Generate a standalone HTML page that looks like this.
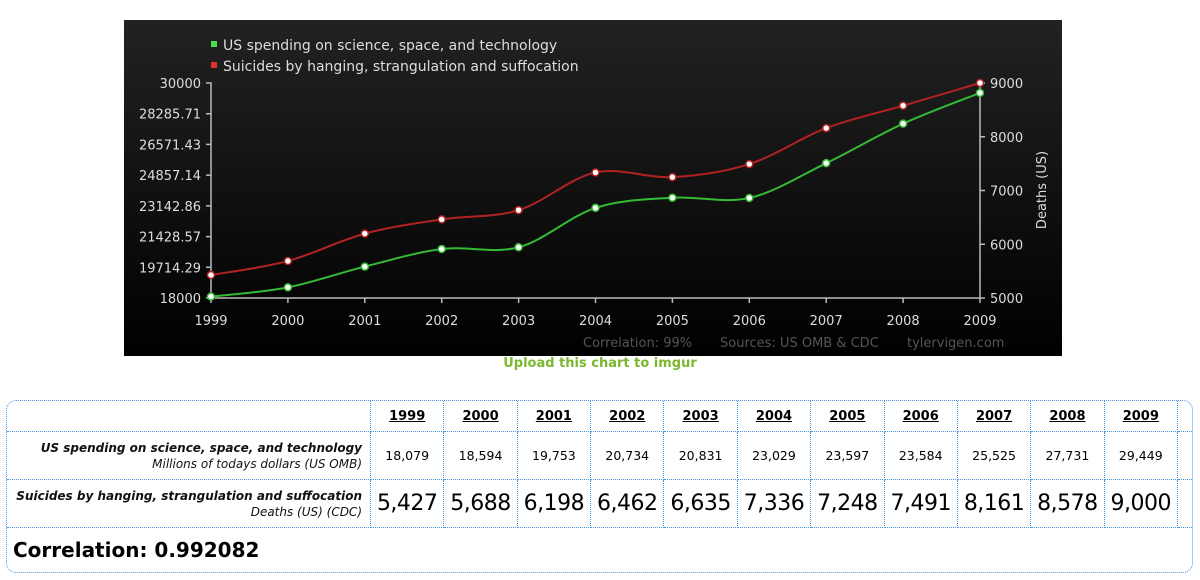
<!DOCTYPE html>
<html><head><meta charset="utf-8"><style>
body{margin:0;width:1200px;height:580px;background:#fff;font-family:"DejaVu Sans","Liberation Sans",sans-serif;overflow:hidden;position:relative}
#chart{position:absolute;left:124px;top:20px}
.up{position:absolute;left:0;width:1200px;text-align:center;top:356px;color:#7cb82f;font-size:13px;font-weight:bold}
table{position:absolute;left:6px;top:400px;width:1187px;border-collapse:separate;border-spacing:0;border:1px dotted #4a90d9;border-radius:10px}
td{border-right:1px dotted #4a90d9;border-bottom:1px dotted #4a90d9;text-align:center;padding:0}
tr td:last-child{border-right:none}
tr:last-child td{border-bottom:none}
.yr{font-weight:bold;text-decoration:underline;font-size:13px;height:30px}
.lab{text-align:right;font-style:italic;font-weight:bold;font-size:12px;padding-right:8px;line-height:16px;color:#111}
.lab span{font-weight:normal}
.s{font-size:12.5px;height:47px}
.b{font-size:22px;height:47px;letter-spacing:-0.5px}
.corr{text-align:left;font-weight:bold;font-size:20px;height:44px;padding-left:6px}
</style></head><body>
<svg id="chart" width="938" height="336" xmlns="http://www.w3.org/2000/svg">
<defs><linearGradient id="g" x1="0" y1="0" x2="0" y2="1"><stop offset="0" stop-color="#222"/><stop offset="1" stop-color="#000"/></linearGradient></defs>
<rect width="938" height="336" fill="url(#g)"/>
<g font-size="14" fill="#ddd">
<rect x="87" y="21" width="6" height="6" fill="#4ddc4d"/><text x="99" y="30">US spending on science, space, and technology</text>
<rect x="87" y="42" width="6" height="6" fill="#e03030"/><text x="99" y="51">Suicides by hanging, strangulation and suffocation</text>
</g>
<g stroke="#bbb" stroke-width="1.5" fill="none" id="ax"></g>
<g id="lbl" font-size="13" fill="#ddd"></g>
<text font-size="13" fill="#ddd" transform="translate(922,170) rotate(-90)" text-anchor="middle">Deaths (US)</text>
<g font-size="13" fill="#555"><text x="459" y="327">Correlation: 99%</text><text x="596" y="327">Sources: US OMB &amp; CDC</text><text x="783" y="327">tylervigen.com</text></g>
<g id="ser"></g>
</svg>
<div class="up">Upload this chart to imgur</div>
<table>
<tr><td style="width:363px"></td><td class="yr">1999</td><td class="yr">2000</td><td class="yr">2001</td><td class="yr">2002</td><td class="yr">2003</td><td class="yr">2004</td><td class="yr">2005</td><td class="yr">2006</td><td class="yr">2007</td><td class="yr">2008</td><td class="yr">2009</td><td style="width:14px"></td></tr>
<tr><td class="lab">US spending on science, space, and technology<br><span>Millions of todays dollars (US OMB)</span></td><td class="s">18,079</td><td class="s">18,594</td><td class="s">19,753</td><td class="s">20,734</td><td class="s">20,831</td><td class="s">23,029</td><td class="s">23,597</td><td class="s">23,584</td><td class="s">25,525</td><td class="s">27,731</td><td class="s">29,449</td><td></td></tr>
<tr><td class="lab">Suicides by hanging, strangulation and suffocation<br><span>Deaths (US) (CDC)</span></td><td class="b">5,427</td><td class="b">5,688</td><td class="b">6,198</td><td class="b">6,462</td><td class="b">6,635</td><td class="b">7,336</td><td class="b">7,248</td><td class="b">7,491</td><td class="b">8,161</td><td class="b">8,578</td><td class="b">9,000</td><td></td></tr>
<tr><td colspan="13" class="corr">Correlation: 0.992082</td></tr>
</table>
<script>
var ox=124,oy=20,NS="http://www.w3.org/2000/svg";
function X(i){return 211+i*76.9-ox}
function add(p,tag,a,t){var e=document.createElementNS(NS,tag);for(var k in a)e.setAttribute(k,a[k]);if(t)e.textContent=t;document.getElementById(p).appendChild(e);}
var xl=X(0),xr=X(10),yt=83-oy,yb=298-oy;
var d="M"+(xl-5)+" "+yt+"H"+xl+"V"+yb+"H"+xr+"V"+yt+"H"+(xr+5);
var ll=["30000","28285.71","26571.43","24857.14","23142.86","21428.57","19714.29","18000"];
for(var i=0;i<8;i++){var y=yt+i*(yb-yt)/7;d+="M"+(xl-5)+" "+y+"H"+xl;add("lbl","text",{x:xl-10,y:y+5,"text-anchor":"end"},ll[i]);}
for(var i=0;i<5;i++){var y=yt+i*(yb-yt)/4;d+="M"+xr+" "+y+"H"+(xr+5);add("lbl","text",{x:xr+10,y:y+5},String(9000-i*1000));}
for(var i=0;i<11;i++){d+="M"+X(i)+" "+yb+"V"+(yb+5);add("lbl","text",{x:X(i),y:yb+27,"text-anchor":"middle"},String(1999+i));}
add("ax","path",{d:d});
var G=[18079,18594,19753,20734,20831,23029,23597,23584,25525,27731,29449],R=[5427,5688,6198,6462,6635,7336,7248,7491,8161,8578,9000];
function ser(v,f,col){var p=v.map(function(a,i){return [X(i),f(a)]});var s="M"+p[0];
for(var i=0;i<p.length-1;i++){var a=p[Math.max(0,i-1)],b=p[i],c=p[i+1],e=p[Math.min(p.length-1,i+2)];
s+="C"+(b[0]+(c[0]-a[0])/6)+" "+(b[1]+(c[1]-a[1])/6)+" "+(c[0]-(e[0]-b[0])/6)+" "+(c[1]-(e[1]-b[1])/6)+" "+c[0]+" "+c[1];}
add("ser","path",{d:s,stroke:col,"stroke-width":2,fill:"none"});
p.forEach(function(q){add("ser","circle",{cx:q[0],cy:q[1],r:3.5,fill:"#fff",stroke:col,"stroke-width":1.5})});}
ser(R,function(v){return yb-(v-5000)*(yb-yt)/4000},"#b22222");
ser(G,function(v){return yb-(v-18000)*(yb-yt)/12000},"#33bb33");
</script>
</body></html>
